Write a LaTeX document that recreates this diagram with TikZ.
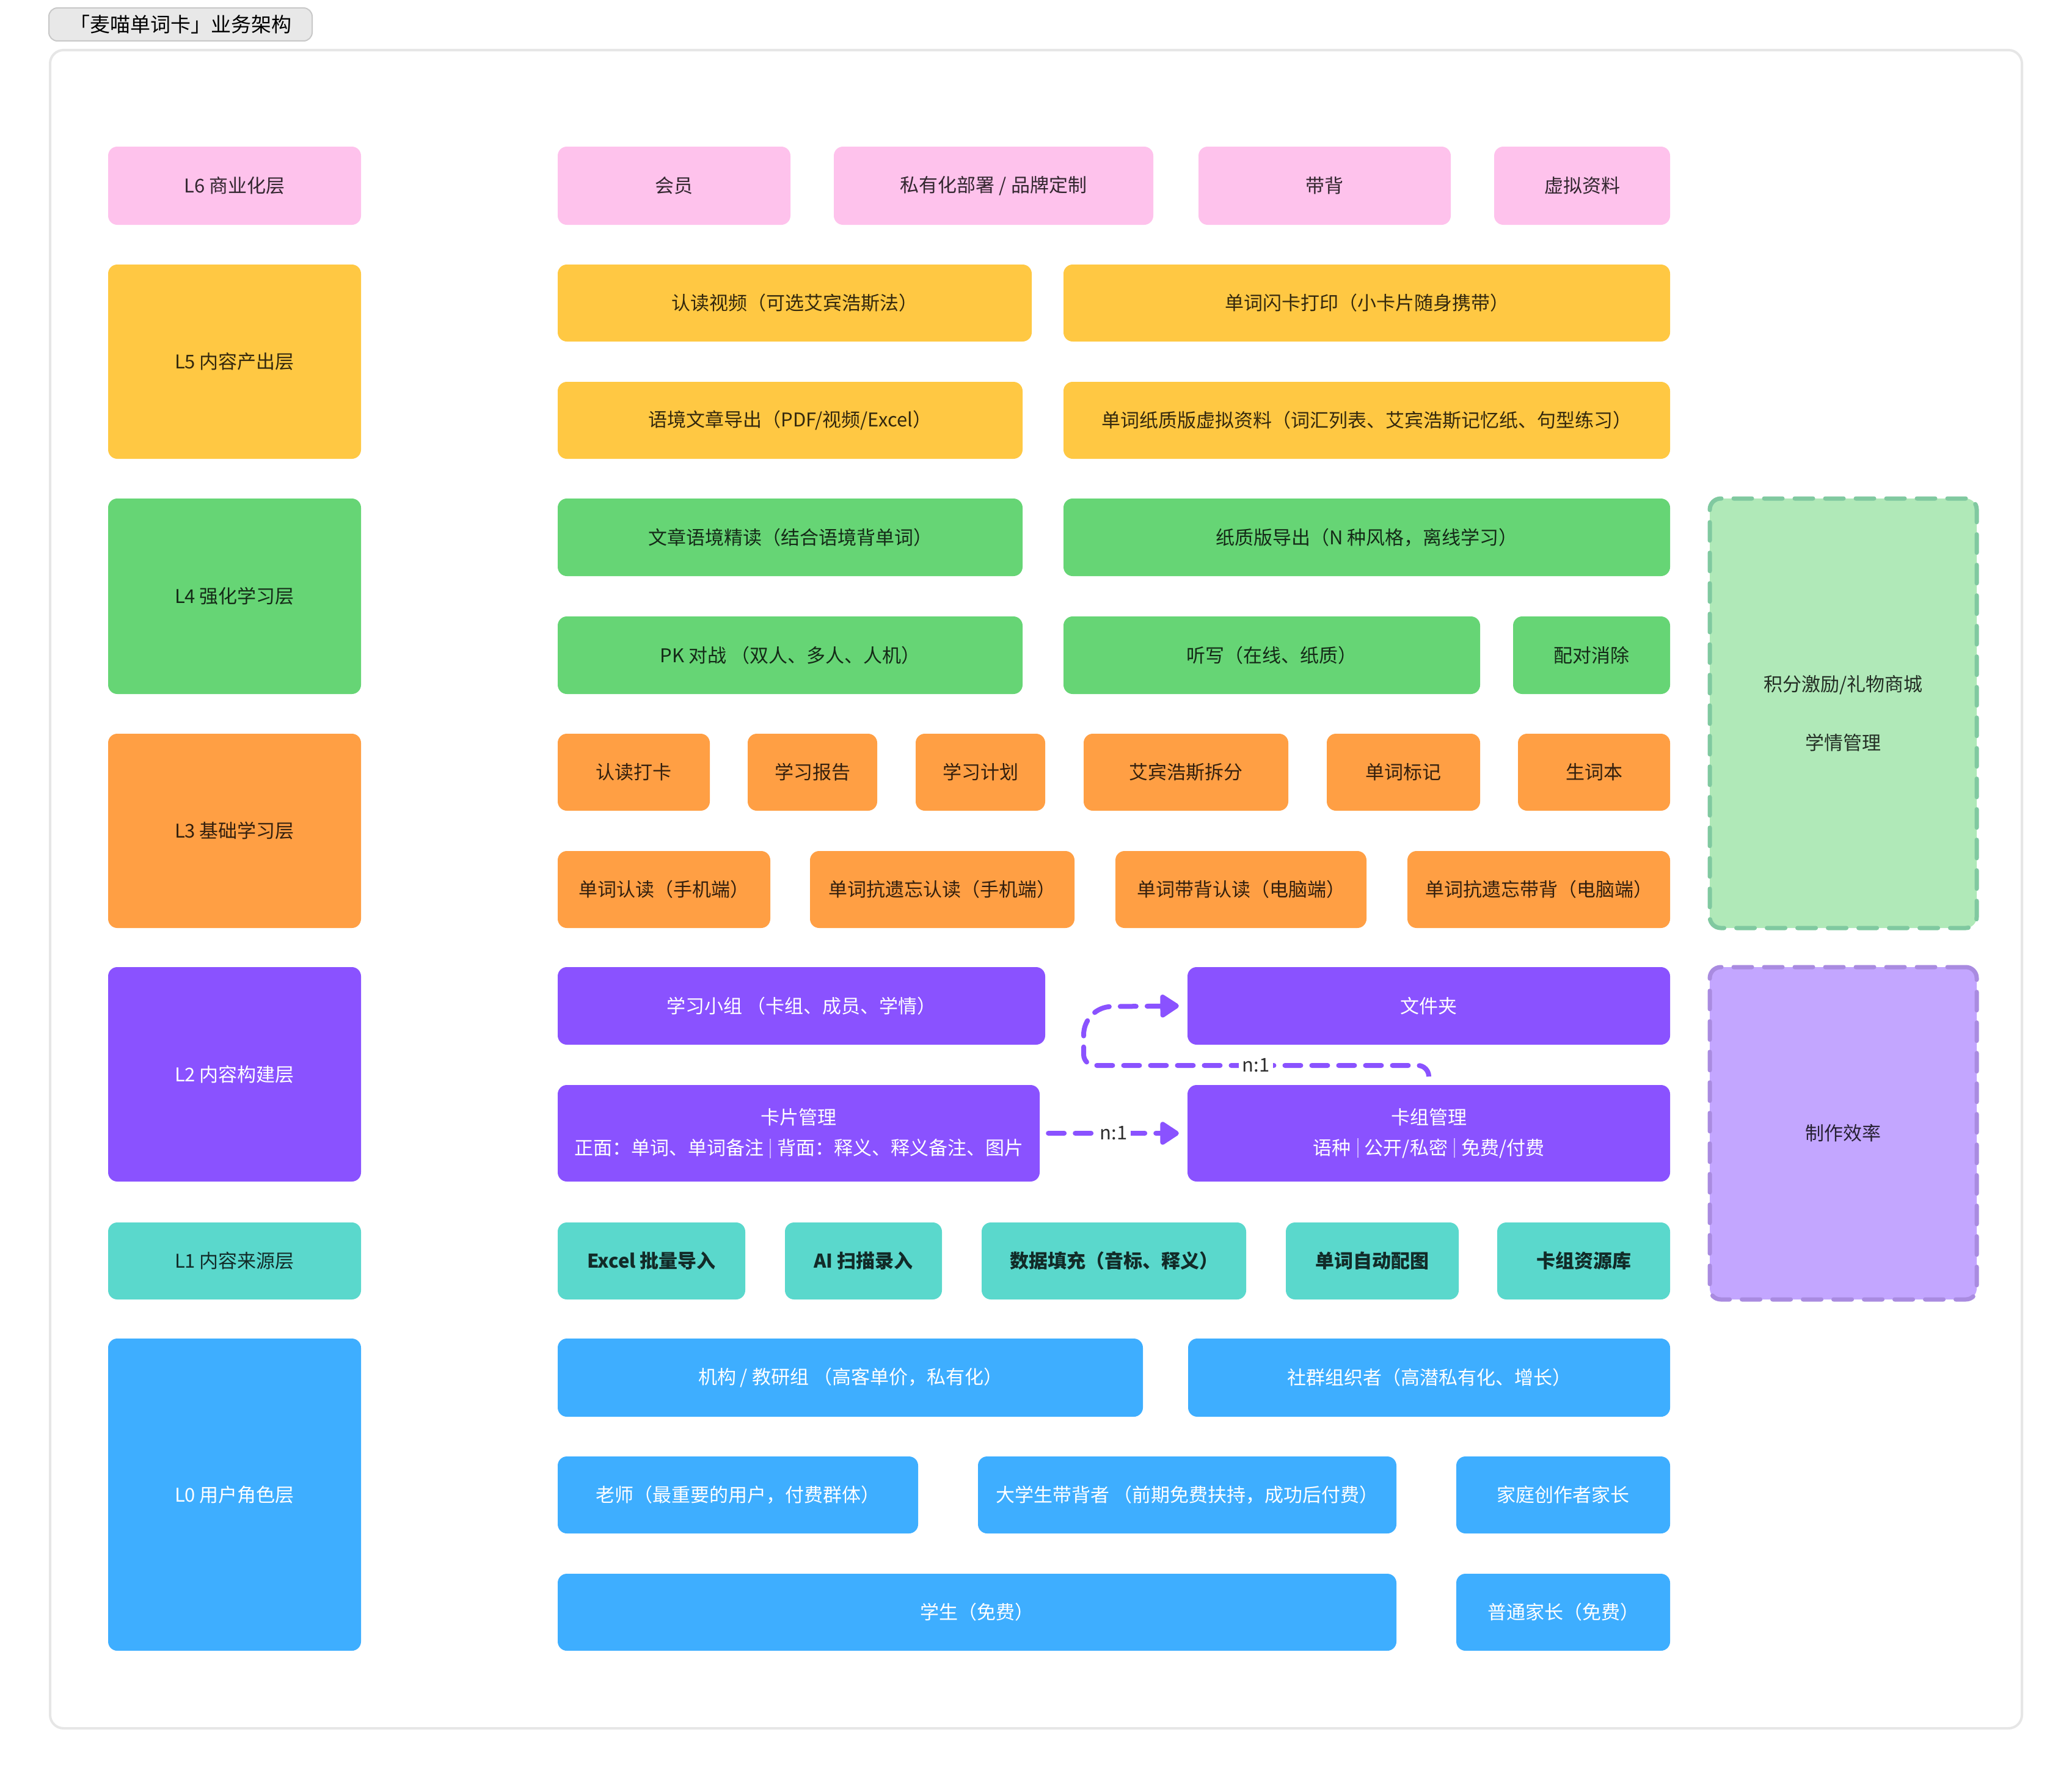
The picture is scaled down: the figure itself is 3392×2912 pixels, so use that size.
\documentclass[tikz,border=0pt]{standalone}
\usepackage{fontspec}
\setmainfont{Noto Sans CJK SC}
\usetikzlibrary{arrows.meta}
\definecolor{cPink}{HTML}{FEC2EC}
\definecolor{cYel}{HTML}{FFC843}
\definecolor{cGrn}{HTML}{66D575}
\definecolor{cOrg}{HTML}{FF9F44}
\definecolor{cPur}{HTML}{8A52FF}
\definecolor{cTeal}{HTML}{5AD8CC}
\definecolor{cBlue}{HTML}{3EAEFF}
\definecolor{cGL}{HTML}{B0E9B8}
\definecolor{cGD}{HTML}{80C9A0}
\definecolor{cPL}{HTML}{C3A6FF}
\definecolor{cPD}{HTML}{A98BE0}
\definecolor{cFrame}{HTML}{E6E6E6}
\definecolor{cTitleF}{HTML}{E8E8E8}
\definecolor{cTitleD}{HTML}{C8C8C8}
\newcommand\fs{\fontsize{31}{50}\selectfont}
\newcommand\vsep[1]{\hspace{10pt}\textcolor{#1}{\rule[-5pt]{2pt}{32pt}}\hspace{10pt}}
\newcommand\mybox[7]{%
  \pgfmathsetmacro\bw{#5-#3}%
  \pgfmathsetmacro\bh{#6-#4}%
  \node[#2, minimum width=\bw pt, minimum height=\bh pt] (#1) at ({(#3+#5)/2},{(#4+#6)/2}) {#7};}
\tikzset{
  box/.style={rounded corners=15pt, inner sep=0pt, align=center, font=\fs, text=black, text opacity=0.8},
  bpink/.style={box, fill=cPink},
  byel/.style={box, fill=cYel},
  bgrn/.style={box, fill=cGrn},
  borg/.style={box, fill=cOrg},
  bpur/.style={box, fill=cPur, text=white, text opacity=1},
  bteal/.style={box, fill=cTeal},
  bblue/.style={box, fill=cBlue, text=white, text opacity=1},
  sideg/.style={box, fill=cGL, draw=cGD, line width=7pt, dash pattern=on 30pt off 20pt, line cap=round, rounded corners=18pt},
  sidep/.style={box, fill=cPL, draw=cPD, line width=7pt, dash pattern=on 30pt off 20pt, line cap=round, rounded corners=18pt},
  conn/.style={draw=cPur, line width=8pt, line cap=round, dash pattern=on 26pt off 18pt, -{Triangle[length=34pt, width=42pt, round]}},
  lbl/.style={fill=white, text=black, text opacity=0.82, font=\fs, inner sep=6pt},
}
\begin{document}
\begin{tikzpicture}[x=1pt, y=-1pt]
\useasboundingbox (0,0) rectangle (3392,2912);
\mybox{frame}{draw=cFrame, line width=4pt, rounded corners=22pt}{82}{82}{3310}{2829}{}
\mybox{title}{fill=cTitleF, draw=cTitleD, line width=2pt, rounded corners=14pt, inner sep=0pt, font=\fontsize{33}{40}\selectfont}{80}{13}{511}{67}{「麦喵单词卡」业务架构}
% left column
\mybox{l6}{bpink}{177}{240}{591}{368}{L6 商业化层}
\mybox{l5}{byel}{177}{433}{591}{751}{L5 内容产出层}
\mybox{l4}{bgrn}{177}{816}{591}{1136}{L4 强化学习层}
\mybox{l3}{borg}{177}{1201}{591}{1519}{L3 基础学习层}
\mybox{l2}{bpur}{177}{1583}{591}{1934}{L2 内容构建层}
\mybox{l1}{bteal}{177}{2001}{591}{2127}{L1 内容来源层}
\mybox{l0}{bblue}{177}{2191}{591}{2702}{L0 用户角色层}
% L6
\mybox{vip}{bpink}{913}{240}{1294}{368}{会员}
\mybox{priv}{bpink}{1365}{240}{1888}{368}{私有化部署 / 品牌定制}
\mybox{daibei}{bpink}{1962}{240}{2375}{368}{带背}
\mybox{xuni}{bpink}{2446}{240}{2734}{368}{虚拟资料}
% L5
\mybox{video}{byel}{913}{433}{1689}{559}{认读视频（可选艾宾浩斯法）}
\mybox{flash}{byel}{1741}{433}{2734}{559}{单词闪卡打印（小卡片随身携带）}
\mybox{artexp}{byel}{913}{625}{1674}{751}{语境文章导出（PDF/视频/Excel）}
\mybox{paper}{byel}{1741}{625}{2734}{751}{单词纸质版虚拟资料（词汇列表、艾宾浩斯记忆纸、句型练习）}
% L4
\mybox{artread}{bgrn}{913}{816}{1674}{943}{文章语境精读（结合语境背单词）}
\mybox{pexp}{bgrn}{1741}{816}{2734}{943}{纸质版导出（N 种风格，离线学习）}
\mybox{pk}{bgrn}{913}{1009}{1674}{1136}{PK 对战 （双人、多人、人机）}
\mybox{dict}{bgrn}{1741}{1009}{2423}{1136}{听写（在线、纸质）}
\mybox{match}{bgrn}{2477}{1009}{2734}{1136}{配对消除}
% L3
\mybox{daka}{borg}{913}{1201}{1162}{1327}{认读打卡}
\mybox{report}{borg}{1224}{1201}{1436}{1327}{学习报告}
\mybox{plan}{borg}{1499}{1201}{1711}{1327}{学习计划}
\mybox{ebbh}{borg}{1774}{1201}{2109}{1327}{艾宾浩斯拆分}
\mybox{mark}{borg}{2172}{1201}{2423}{1327}{单词标记}
\mybox{newword}{borg}{2485}{1201}{2734}{1327}{生词本}
\mybox{rd1}{borg}{913}{1393}{1261}{1519}{单词认读（手机端）}
\mybox{rd2}{borg}{1326}{1393}{1759}{1519}{单词抗遗忘认读（手机端）}
\mybox{rd3}{borg}{1826}{1393}{2237}{1519}{单词带背认读（电脑端）}
\mybox{rd4}{borg}{2304}{1393}{2734}{1519}{单词抗遗忘带背（电脑端）}
% L2
\mybox{group}{bpur}{913}{1583}{1711}{1710}{学习小组 （卡组、成员、学情）}
\mybox{folder}{bpur}{1944}{1583}{2734}{1710}{文件夹}
\mybox{card}{bpur}{913}{1776}{1702}{1934}{卡片管理\\正面：单词、单词备注\vsep{white!55!cPur}背面：释义、释义备注、图片}
\mybox{deck}{bpur}{1944}{1776}{2734}{1934}{卡组管理\\语种\vsep{white!55!cPur}公开/私密\vsep{white!55!cPur}免费/付费}
% L1
\mybox{excel}{bteal, font=\fs\bfseries}{913}{2001}{1220}{2127}{Excel 批量导入}
\mybox{ai}{bteal, font=\fs\bfseries}{1285}{2001}{1542}{2127}{AI 扫描录入}
\mybox{fill}{bteal, font=\fs\bfseries}{1607}{2001}{2040}{2127}{数据填充（音标、释义）}
\mybox{pic}{bteal, font=\fs\bfseries}{2105}{2001}{2388}{2127}{单词自动配图}
\mybox{lib}{bteal, font=\fs\bfseries}{2451}{2001}{2734}{2127}{卡组资源库}
% L0
\mybox{org}{bblue}{913}{2191}{1871}{2319}{机构 / 教研组 （高客单价，私有化）}
\mybox{comm}{bblue}{1945}{2191}{2734}{2319}{社群组织者（高潜私有化、增长）}
\mybox{teacher}{bblue}{913}{2384}{1503}{2510}{老师（最重要的用户，付费群体）}
\mybox{college}{bblue}{1601}{2384}{2286}{2510}{大学生带背者 （前期免费扶持，成功后付费）}
\mybox{family}{bblue}{2384}{2384}{2734}{2510}{家庭创作者家长}
\mybox{student}{bblue}{913}{2576}{2286}{2702}{学生（免费）}
\mybox{parent}{bblue}{2384}{2576}{2734}{2702}{普通家长（免费）}
% right side
\mybox{points}{sideg}{2799}{816}{3236}{1519}{积分激励/礼物商城\\[46pt]学情管理}
\mybox{eff}{sidep}{2799}{1583}{3236}{2127}{制作效率}
% connectors
\draw[conn] ([yshift=14pt]deck.north) [rounded corners=18pt] -- (deck.north |- 0,1744) -- (1774,1744) [rounded corners=46pt] -- (1774,1648) -- ([xshift=-14pt]folder.west);
\node[lbl] (n1) at (2056,1744) {n:1};
\draw[conn] ([xshift=14pt]card.east) -- ([xshift=-14pt]deck.west) node[lbl, pos=0.5] (n2) {n:1};
\end{tikzpicture}
\end{document}
